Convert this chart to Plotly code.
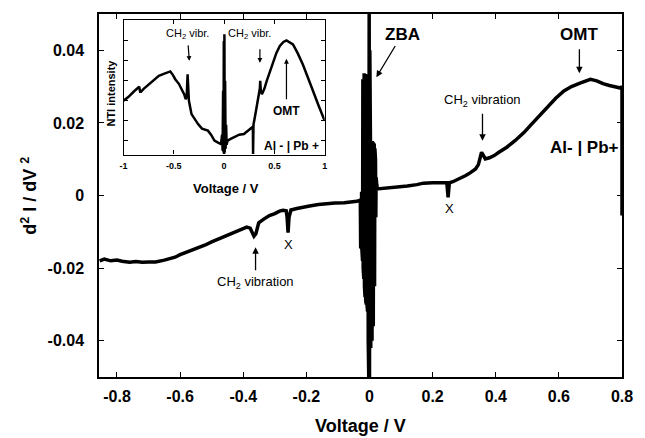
import plotly.graph_objects as go

# ---------------- data ----------------
main_v = [-0.855, -0.84, -0.82, -0.80, -0.784, -0.76, -0.74, -0.72, -0.70, -0.678,
          -0.65, -0.63, -0.616, -0.60, -0.575, -0.55, -0.522, -0.50, -0.473, -0.45,
          -0.42, -0.40, -0.389, -0.378, -0.370, -0.366, -0.360, -0.351, -0.335, -0.317,
          -0.30, -0.285, -0.274, -0.264, -0.261, -0.258, -0.255, -0.252, -0.249, -0.23,
          -0.211, -0.19, -0.162, -0.14, -0.12, -0.109, -0.08, -0.056, -0.04, -0.031]
main_d2 = [-0.0180, -0.0175, -0.0180, -0.0178, -0.0181, -0.0184, -0.0182, -0.0184, -0.0183, -0.0183,
           -0.0178, -0.0174, -0.0170, -0.0163, -0.0155, -0.0147, -0.0137, -0.0128, -0.0118, -0.0108,
           -0.0097, -0.0090, -0.0087, -0.0090, -0.0105, -0.0112, -0.0105, -0.0075, -0.0065, -0.0055,
           -0.0050, -0.0043, -0.0041, -0.0042, -0.0060, -0.0102, -0.0060, -0.0042, -0.0040, -0.0036,
           -0.0032, -0.0029, -0.0025, -0.0023, -0.0022, -0.0021, -0.0020, -0.0018, -0.0016, -0.0013]

zba_v = [-0.029, -0.028, -0.027, -0.026, -0.025, -0.024, -0.023, -0.022, -0.021, -0.020,
         -0.019, -0.018, -0.017, -0.016, -0.015, -0.014, -0.013, -0.012, -0.011, -0.010,
         -0.009, -0.008, -0.007, -0.006, -0.005, -0.004, -0.003, -0.002, -0.001, 0.000,
         0.001, 0.002, 0.003, 0.004, 0.005, 0.006, 0.007, 0.008, 0.009, 0.010,
         0.011, 0.012, 0.013, 0.014, 0.015, 0.016, 0.017, 0.018, 0.019, 0.020,
         0.021, 0.022, 0.023]
zba_d2 = [-0.0020, -0.0142, 0.0000, -0.0145, 0.0010, -0.0150, 0.0250, -0.0180, 0.0320, -0.0200,
          0.0335, -0.0230, 0.0337, -0.0250, 0.0335, -0.0280, 0.0335, -0.0290, 0.0333, -0.0300,
          0.0333, -0.0300, 0.0333, -0.0320, 0.0333, -0.0400, 0.0520, -0.0520, 0.0520, -0.0520,
          0.0400, -0.0450, 0.0150, -0.0420, 0.0150, -0.0400, 0.0150, -0.0400, 0.0148, -0.0380,
          0.0145, -0.0360, 0.0143, -0.0330, 0.0140, -0.0250, 0.0130, -0.0150, 0.0100, -0.0060,
          0.0050, -0.0010, 0.0030]

right_v = [0.025, 0.05, 0.075, 0.0995, 0.12, 0.15, 0.171, 0.2, 0.233, 0.245,
           0.249, 0.253, 0.264, 0.285, 0.305, 0.320, 0.336, 0.345, 0.350, 0.355,
           0.360, 0.367, 0.38, 0.395, 0.410, 0.435, 0.461, 0.49, 0.513, 0.54,
           0.565, 0.59, 0.616, 0.64, 0.669, 0.685, 0.700, 0.72, 0.740, 0.76,
           0.783, 0.795, 0.80, 0.80]
right_d2 = [0.0018, 0.0020, 0.0021, 0.0023, 0.0026, 0.0030, 0.0034, 0.0035, 0.0036, 0.0035,
            -0.0005, 0.0035, 0.0038, 0.0046, 0.0055, 0.0063, 0.0073, 0.0085, 0.0105, 0.0119,
            0.0112, 0.0101, 0.0104, 0.0110, 0.0119, 0.0133, 0.0151, 0.0174, 0.0196, 0.0222,
            0.0247, 0.0268, 0.0288, 0.0300, 0.0310, 0.0316, 0.0320, 0.0316, 0.0308, 0.0303,
            0.0297, 0.0296, 0.0300, -0.0055]

inset_v = [-1.0, -0.95, -0.90, -0.876, -0.844, -0.835, -0.827, -0.80, -0.746, -0.70,
           -0.649, -0.60, -0.568, -0.535, -0.51, -0.486, -0.45, -0.421, -0.395, -0.382,
           -0.372, -0.363, -0.355, -0.350, -0.324, -0.29, -0.259, -0.22, -0.161, -0.13,
           -0.096, -0.06, -0.031, -0.02, -0.015, -0.01, -0.006, -0.003, 0.0, 0.003,
           0.006, 0.01, 0.015, 0.02, 0.025, 0.034, 0.07, 0.1, 0.15, 0.197,
           0.24, 0.278, 0.286, 0.288, 0.292, 0.31, 0.343, 0.355, 0.359, 0.365,
           0.376, 0.40, 0.424, 0.46, 0.49, 0.52, 0.554, 0.59, 0.620, 0.65,
           0.685, 0.73, 0.782, 0.83, 0.880, 0.94, 1.0]
inset_nti = [2.0, 2.2, 2.45, 2.55, 2.7, 2.45, 2.45, 2.6, 2.85, 3.05,
             3.25, 3.35, 3.42, 3.47, 3.3, 3.08, 2.85, 2.58, 2.3, 2.08,
             2.2, 3.33, 2.4, 2.0, 1.33, 1.05, 0.83, 0.6, 0.5, 0.3,
             0.0, -0.1, -0.17, 0.3, -0.5, 2.5, -0.6, 5.0, -0.67, 5.33,
             -0.6, 3.0, -0.4, 0.8, -0.2, 0.0, 0.1, 0.17, 0.3, 0.33,
             0.5, 0.67, 0.7, -0.67, 0.8, 1.3, 2.17, 2.6, 3.0, 2.5,
             2.33, 2.6, 3.0, 3.5, 4.0, 4.4, 4.75, 4.95, 5.03, 4.95,
             4.83, 4.4, 3.83, 3.2, 2.5, 1.75, 1.0]

x_tickvals = [-0.8, -0.6, -0.4, -0.2, 0, 0.2, 0.4, 0.6, 0.8]
x_ticktext = ["-0.8", "-0.6", "-0.4", "-0.2", "0", "0.2", "0.4", "0.6", "0.8"]
y_tickvals = [-0.04, -0.02, 0, 0.02, 0.04]
y_ticktext = ["-0.04", "-0.02", "0", "0.02", "0.04"]
ix_tickvals = [-1, -0.5, 0, 0.5, 1]
ix_ticktext = ["-1", "-0.5", "0", "0.5", "1"]
iy_tickvals = [0, 1, 2, 3, 4, 5]

# ---------------- figure ----------------
FONT = "Arial, Liberation Sans, sans-serif"
W, H = 645, 438
L, R, T, B = 99, 13, 13, 61
PW, PH = W - L - R, H - T - B


def px(x):
    return (x - L) / PW


def py(y):
    return (H - B - y) / PH


all_v = main_v + zba_v + right_v
all_d2 = main_d2 + zba_d2 + right_d2

fig = go.Figure()
fig.add_trace(go.Scatter(x=all_v, y=all_d2, mode="lines",
                         line=dict(color="black", width=3.5), showlegend=False,
                         xaxis="x", yaxis="y"))
fig.add_trace(go.Scatter(x=inset_v, y=inset_nti, mode="lines",
                         line=dict(color="black", width=2.5), showlegend=False,
                         xaxis="x2", yaxis="y2"))

axis_common = dict(showgrid=False, zeroline=False, showline=True, linecolor="black",
                   ticks="inside", mirror="allticks", tickcolor="black")

fig.update_layout(
    width=W, height=H,
    margin=dict(l=L, r=R, t=T, b=B, pad=0),
    paper_bgcolor="white", plot_bgcolor="white",
    font=dict(family=FONT, color="black"),
    xaxis=dict(range=[-0.857, 0.80], domain=[0, 1], tickvals=x_tickvals, ticktext=x_ticktext,
               linewidth=1.5, ticklen=5, tickwidth=1.2,
               tickfont=dict(size=16, weight="bold", family=FONT), ticklabelstandoff=4,
               **axis_common),
    yaxis=dict(range=[-0.05, 0.05], domain=[0, 1], tickvals=y_tickvals, ticktext=y_ticktext,
               linewidth=1.5, ticklen=5, tickwidth=1.2,
               tickfont=dict(size=16, weight="bold", family=FONT), ticklabelstandoff=10,
               **axis_common),
    xaxis2=dict(range=[-1, 1], domain=[px(124), px(329)], anchor="y2",
                tickvals=ix_tickvals, ticktext=ix_ticktext,
                linewidth=1.3, ticklen=4, tickwidth=1,
                tickfont=dict(size=9, weight="bold", family=FONT), ticklabelstandoff=2,
                **axis_common),
    yaxis2=dict(range=[-0.7, 6.05], domain=[py(154), py(19)], anchor="x2",
                tickvals=iy_tickvals, showticklabels=False,
                linewidth=1.3, ticklen=4, tickwidth=1,
                **axis_common),
)

ARW = dict(showarrow=True, arrowhead=2, arrowsize=1, arrowwidth=1.3, arrowcolor="black")
ARW_S = dict(showarrow=True, arrowhead=2, arrowsize=0.8, arrowwidth=1.2, arrowcolor="black")

ann = []
# axis titles
ann.append(dict(xref="paper", yref="paper", x=0.5, y=py(426), text="Voltage / V",
                showarrow=False, font=dict(size=18, weight="bold"), xanchor="center", yanchor="middle"))
ann.append(dict(xref="paper", yref="paper", x=px(28), y=0.5, text="d<sup>2</sup> I / dV <sup>2</sup>",
                textangle=-90, showarrow=False, font=dict(size=18, weight="bold"),
                xanchor="center", yanchor="middle"))
# inset axis titles
ann.append(dict(xref="paper", yref="paper", x=px(228), y=py(188), text="Voltage / V",
                showarrow=False, font=dict(size=13, weight="bold"), xanchor="center", yanchor="middle"))
ann.append(dict(xref="paper", yref="paper", x=px(111), y=py(92), text="NTI intensity",
                textangle=-90, showarrow=False, font=dict(size=11, weight="bold"),
                xanchor="center", yanchor="middle"))

# main labels with arrows (text sits at arrow tail)
ann.append(dict(xref="x", yref="y", x=0.0218, y=0.0326, text="ZBA", ax=26, ay=-43,
                font=dict(size=17, weight="bold"), startstandoff=1, **ARW))
ann.append(dict(xref="x", yref="y", x=0.665, y=0.0337, text="OMT", ax=0, ay=-39,
                font=dict(size=17, weight="bold"), startstandoff=4, **ARW))
ann.append(dict(xref="x", yref="y", x=0.358, y=0.0151, text="CH<sub>2</sub> vibration",
                ax=0, ay=-40, font=dict(size=13), startstandoff=3, **ARW))
ann.append(dict(xref="x", yref="y", x=-0.361, y=-0.01425, text="CH<sub>2</sub> vibration",
                ax=0, ay=35, font=dict(size=13), startstandoff=2, **ARW))
ann.append(dict(xref="x", yref="y", x=0.680, y=0.0131, text="Al- | Pb+", showarrow=False,
                font=dict(size=17, weight="bold")))
ann.append(dict(xref="x", yref="y", x=0.252, y=-0.0036, text="X", showarrow=False,
                font=dict(size=13)))
ann.append(dict(xref="x", yref="y", x=-0.258, y=-0.0134, text="X", showarrow=False,
                font=dict(size=13)))

# inset labels
ann.append(dict(xref="x2", yref="y2", x=-0.346, y=4.0, text="CH<sub>2</sub> vibr.",
                ax=-2, ay=-27, font=dict(size=11), startstandoff=3, **ARW_S))
ann.append(dict(xref="x2", yref="y2", x=0.249, y=5.35, text="CH<sub>2</sub> vibr.",
                showarrow=False, font=dict(size=11)))
ann.append(dict(xref="x2", yref="y2", x=0.356, y=3.9, text="", ax=0, ay=-15, **ARW_S))
ann.append(dict(xref="x2", yref="y2", x=0.620, y=4.1, text="OMT", ax=0, ay=52,
                font=dict(size=12, weight="bold"), startstandoff=3, **ARW_S))
ann.append(dict(xref="x2", yref="y2", x=0.668, y=-0.25, text="Al - | Pb +", showarrow=False,
                font=dict(size=12, weight="bold")))

fig.update_layout(annotations=ann)
fig.write_html("out.html")
